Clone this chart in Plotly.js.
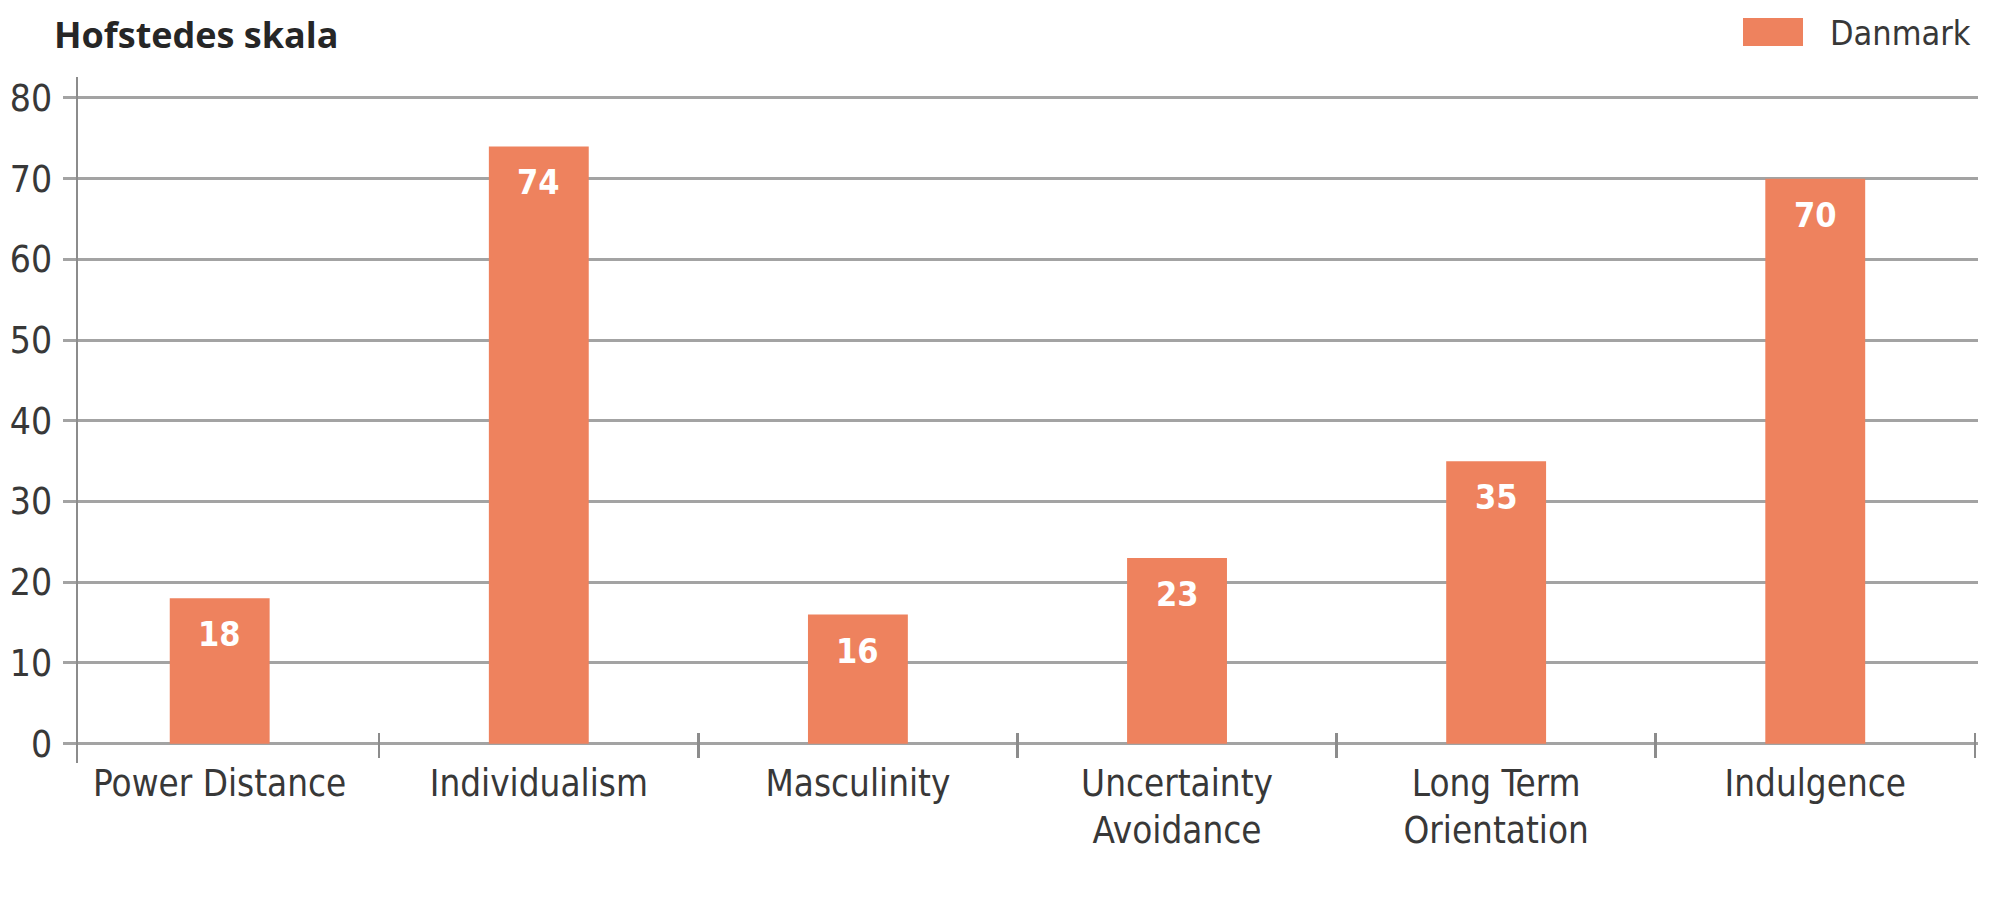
<!DOCTYPE html>
<html>
<head>
<meta charset="utf-8">
<script src="https://cdn.plot.ly/plotly-3.0.1.min.js"></script>
<style>
  html, body { margin: 0; padding: 0; background: #ffffff; }
  #chart { width: 2000px; height: 905px; }
</style>
</head>
<body>
<div id="chart"></div>
<script>
// ---- data ----
const categories = ['Power Distance', 'Individualism', 'Masculinity', 'Uncertainty Avoidance', 'Long Term Orientation', 'Indulgence'];
const tickLabels = ['Power Distance', 'Individualism', 'Masculinity', 'Uncertainty<br>Avoidance', 'Long Term<br>Orientation', 'Indulgence'];
const danmark = [18, 74, 16, 23, 35, 70];
const seriesName = 'Danmark';
const yTitle = 'Hofstedes skala';
const yTicks = [0, 10, 20, 30, 40, 50, 60, 70, 80];

// ---- style ----
const barColor = '#EE825E';
const gridColor = '#A3A3A3';
const axisColor = '#8C8C8C';
const textColor = '#383838';
const narrow = '"DejaVu Sans Condensed", "Liberation Sans Narrow", sans-serif';

const W = 2000, H = 905;
const M = { l: 78, r: 22, t: 77, b: 142 };
const plotH = H - M.t - M.b;
const plotW = W - M.l - M.r;
const yRange = [-2.4, 82.6];
const xRange = [-0.444, 5.51];
// px -> paper helpers (for decorations only)
const px = v => (v - M.l) / plotW;
const py = v => (H - M.b - v) / plotH;

const trace = {
  type: 'bar',
  x: categories,
  y: danmark,
  name: seriesName,
  width: 0.313,
  marker: { color: barColor, line: { width: 0 } },
  hoverinfo: 'x+y',
  showlegend: false
};

const valueLabels = categories.map((c, i) => ({
  x: c, y: danmark[i], xref: 'x', yref: 'y',
  text: String(danmark[i]),
  showarrow: false,
  yanchor: 'middle', xanchor: 'center',
  yshift: -36,
  font: { family: narrow, size: 34, color: '#ffffff', weight: 'bold' }
}));

const layout = {
  width: W, height: H,
  margin: M,
  paper_bgcolor: '#ffffff',
  plot_bgcolor: '#ffffff',
  title: {
    text: '<b>' + yTitle + '</b>',
    xref: 'container', yref: 'container',
    x: 54 / W, xanchor: 'left',
    y: 1 - 35 / H, yanchor: 'middle',
    font: { family: '"Open Sans", sans-serif', size: 36, color: '#262626' }
  },
  xaxis: {
    type: 'category',
    range: xRange,
    tickmode: 'array',
    tickvals: categories,
    ticktext: tickLabels,
    tickson: 'boundaries',
    ticks: 'outside',
    ticklen: 25,
    tickwidth: 2.5,
    tickcolor: axisColor,
    showline: false,
    showgrid: false,
    zeroline: false,
    anchor: 'free',
    position: 31 / (H - M.t - M.b),
    ticklabelstandoff: 26,
    tickfont: { family: narrow, size: 36.5, color: textColor },
    fixedrange: true
  },
  yaxis: {
    range: yRange,
    tickmode: 'array',
    tickvals: yTicks,
    ticks: 'outside',
    ticklen: 13,
    tickwidth: 3,
    tickcolor: gridColor,
    showgrid: true,
    gridcolor: gridColor,
    gridwidth: 3,
    zeroline: true,
    zerolinecolor: gridColor,
    zerolinewidth: 3,
    showline: true,
    linecolor: axisColor,
    linewidth: 2.5,
    ticklabelstandoff: 3,
    tickfont: { family: narrow, size: 37, color: textColor },
    fixedrange: true
  },
  shapes: [{
    type: 'rect', xref: 'paper', yref: 'paper',
    x0: px(1743), x1: px(1803), y0: py(46), y1: py(18),
    fillcolor: barColor, line: { width: 0 }
  }],
  annotations: valueLabels.concat([{
    xref: 'paper', yref: 'paper',
    x: px(1828), y: py(33),
    xanchor: 'left', yanchor: 'middle',
    text: seriesName, showarrow: false,
    font: { family: narrow, size: 34, color: textColor }
  }]),
  bargap: 0.687
};

Plotly.newPlot('chart', [trace], layout, { displayModeBar: false, staticPlot: true });
</script>
</body>
</html>
